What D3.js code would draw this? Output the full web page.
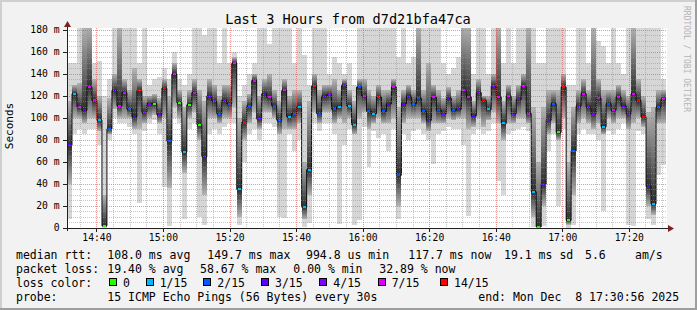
<!DOCTYPE html>
<html>
<head>
<meta charset="utf-8">
<script src="https://cdn.jsdelivr.net/npm/d3@7"></script>
<style>
  body { margin: 0; background: #fff; }
  svg text { font-family: "DejaVu Sans Mono", monospace; }
</style>
</head>
<body>
<div id="chart"></div>
<script>
// one slot = 90 s, 120 slots = 3 hours (values in ms)
const med = [75,122,110,107,128,116,98,2,90,125, 111,123,108,101,125,105,113,113,103,127,
  79,140,114,69,112,123,94,65,120,115, 104,116,113,150,35,96,111,134,99,122,
  119,111,98,125,101,104,110,19,53,129, 104,120,121,108,110,130,111,94,128,120,
  106,104,119,106,113,128,48,113,120,113, 118,106,98,119,107,104,118,107,108,125,
  119,102,123,116,108,129,119,95,120,104, 117,129,104,33,1,40,98,113,87,128,
  7,70,111,122,110,104,118,92,113,107, 119,111,104,122,116,101,38,22,110,117];
const loss = [3,1,7,3,7,7,1,0,2,3, 7,7,2,3,14,4,4,0,4,14,
  2,7,0,1,0,7,0,3,3,4, 2,4,2,7,1,14,2,7,4,3,
  7,2,2,7,1,2,1,1,1,14, 2,3,4,2,1,4,1,1,2,7,
  2,1,14,2,3,7,2,3,3,2, 2,2,3,7,2,4,3,2,3,7,
  7,3,4,14,1,4,7,1,7,3, 4,7,7,1,0,3,4,2,0,14,
  0,2,4,7,4,4,7,1,2,7, 7,3,4,7,14,14,3,1,2,7];
const lo = [8,85,90,85,90,90,75,0,80,100, 95,95,92,85,23,88,95,98,85,37,
  2,100,95,8,90,95,10,3,85,90, 85,92,95,95,3,60,85,90,80,95,
  95,92,10,9,85,70,80,1,5,95, 88,95,95,85,4,75,90,3,7,92,
  55,88,82,85,70,90,8,85,80,88, 90,85,80,58,85,88,92,90,90,75,
  11,85,90,85,88,95,43,30,85,88, 90,92,88,1,0,2,70,85,20,90,
  0,3,85,90,85,85,80,15,88,85, 90,95,3,2,88,85,8,3,48,57];
const q1 = [40,100,100,95,100,100,88,1,85,108, 100,100,100,90,90,95,100,103,95,100,
  36,110,100,50,100,105,80,30,100,100, 95,100,100,110,10,80,95,105,90,105,
  105,100,85,90,90,90,95,8,30,105, 95,105,105,95,100,95,100,85,100,105,
  90,95,100,95,95,100,20,95,100,100, 100,95,88,95,95,95,100,98,100,100,
  90,92,100,92,98,105,95,80,95,95, 100,100,95,10,1,20,85,95,80,100,
  3,30,95,100,95,90,95,85,100,95, 100,100,90,95,100,92,20,12,95,95];
const q3 = [115,130,132,185,185,135,120,30,118,140, 185,135,125,145,135,120,120,122,118,135,
  120,150,125,110,125,135,125,115,135,130, 120,130,130,155,100,115,122,140,120,135,
  140,125,115,135,120,125,125,60,115,140, 125,130,130,135,125,135,125,115,135,135,
  125,120,130,125,125,135,110,125,130,125, 185,125,150,130,125,118,128,120,125,185,
  185,115,135,120,120,140,185,115,130,120, 130,140,185,110,60,110,125,125,125,140,
  60,110,125,135,125,185,135,125,125,125, 130,125,120,185,135,120,105,110,125,125];
const hi = [150,150,185,185,185,150,152,120,135,185, 185,185,185,185,150,185,130,135,137,145,
  135,160,135,130,140,185,185,175,185,185, 150,185,150,160,120,130,140,150,185,185,
  167,185,185,185,185,150,185,157,130,185, 185,185,140,155,150,140,150,130,185,185,
  185,185,185,185,185,185,155,185,150,155, 185,185,185,185,185,150,140,145,155,185,
  185,140,185,185,140,185,185,150,185,150, 185,185,185,185,150,150,185,185,185,185,
  130,130,185,185,150,185,170,165,150,185, 150,140,185,185,185,185,185,185,185,135];

const yTicks = [0, 20, 40, 60, 80, 100, 120, 140, 160, 180];
const lossSteps = [0, 1, 2, 3, 4, 7, 14];
const lossColors = ["#26ff00", "#00b8ff", "#0059ff", "#5e00ff", "#7e00ff", "#dd00ff", "#ff0000"];
const lossLabels = ["0", "1/15", "2/15", "3/15", "4/15", "7/15", "14/15"];

const title = "Last 3 Hours from d7d21bfa47ca";
const rttRow = ["median rtt:", "108.0 ms avg", "149.7 ms max", "994.8 us min", "117.7 ms now", "19.1 ms sd", "5.6", "am/s"];
const lossRow = ["packet loss:", "19.40 % avg", "58.67 % max", "0.00 % min", "32.89 % now"];
const probeRow = ["probe:", "15 ICMP Echo Pings (56 Bytes) every 30s", "end: Mon Dec  8 17:30:56 2025"];

const W = 697, H = 310;
const plotLeft = 67, plotTop = 28, plotBottom = 228;
const t0 = new Date(2025, 11, 8, 14, 31, 10);
const t1 = new Date(t0.getTime() + 3 * 3600 * 1000);
const STEP = 90 * 1000;

const x = d3.scaleTime().domain([t0, t1]).range([plotLeft, 666]);
const y = d3.scaleLinear().domain([0, 181.818]).range([plotBottom, plotTop]);

const svg = d3.select("#chart").append("svg")
  .attr("width", W).attr("height", H);

// frame like rrdtool: background + shades
svg.append("rect").attr("width", W).attr("height", H).attr("fill", "#f2f2f2");
svg.append("path").attr("d", `M0,0H${W}V2H2V${H}H0Z`).attr("fill", "#cfcfcf");
svg.append("path").attr("d", `M${W},${H}H0V${H - 2}H${W - 2}V0H${W}Z`).attr("fill", "#9e9e9e");

svg.append("rect").attr("x", plotLeft).attr("y", plotTop).attr("width", 600).attr("height", plotBottom - plotTop)
  .attr("fill", "#fff");

const defs = svg.append("defs");
defs.append("clipPath").attr("id", "plot")
  .append("rect").attr("x", plotLeft).attr("y", plotTop).attr("width", 600).attr("height", plotBottom - plotTop);

const slots = d3.range(med.length);
const sx = i => x(new Date(t0.getTime() + i * STEP));
const yc = v => y(Math.min(v, 184));

// darker towards the median inside each inner band
slots.forEach(i => {
  const top = yc(q3[i]), bot = yc(q1[i]);
  const m = bot > top ? (yc(med[i]) - top) / (bot - top) : 0.5;
  const gr = defs.append("linearGradient").attr("id", "sm" + i)
    .attr("x1", 0).attr("y1", 0).attr("x2", 0).attr("y2", 1);
  gr.append("stop").attr("offset", 0).attr("stop-color", "#b4b4b4");
  gr.append("stop").attr("offset", Math.max(0, Math.min(1, m))).attr("stop-color", "#2e2e2e");
  gr.append("stop").attr("offset", 1).attr("stop-color", "#b4b4b4");
});

const g = svg.append("g").attr("clip-path", "url(#plot)").attr("shape-rendering", "crispEdges");

// smoke: outer spread, then inner spread
g.selectAll("rect.outer").data(slots).join("rect")
  .attr("class", "outer")
  .attr("x", i => sx(i)).attr("width", i => sx(i + 1) - sx(i))
  .attr("y", i => yc(hi[i])).attr("height", i => yc(lo[i]) - yc(hi[i]))
  .attr("fill", "#d6d6d6");

g.selectAll("rect.inner").data(slots).join("rect")
  .attr("class", "inner")
  .attr("x", i => sx(i)).attr("width", i => sx(i + 1) - sx(i))
  .attr("y", i => yc(q3[i])).attr("height", i => yc(q1[i]) - yc(q3[i]))
  .attr("fill", i => `url(#sm${i})`);

// median as a stepped black line
const line = d3.line()
  .x(d => sx(d))
  .y(d => y(med[Math.min(d, med.length - 1)]))
  .curve(d3.curveStepAfter);
g.append("path").datum(d3.range(med.length + 1))
  .attr("d", line).attr("fill", "none").attr("stroke", "#111").attr("stroke-width", 1)
  .attr("shape-rendering", "auto");

function lossColor(l) {
  let c = lossColors[0];
  lossSteps.forEach((s, k) => { if (l >= s) c = lossColors[k]; });
  return c;
}

g.selectAll("rect.med").data(slots).join("rect")
  .attr("class", "med")
  .attr("x", i => Math.round((sx(i) + sx(i + 1)) / 2 - 1.5)).attr("width", 3)
  .attr("y", i => Math.round(y(med[i]) - 1)).attr("height", 2)
  .attr("fill", i => lossColor(loss[i]));

// grid on top of the data
const grid = svg.append("g").attr("stroke-dasharray", "1,1").attr("shape-rendering", "crispEdges");
const minorY = d3.range(5, 181, 5).filter(v => v % 20 !== 0);
grid.selectAll("line.my").data(minorY).join("line")
  .attr("x1", plotLeft).attr("x2", 667)
  .attr("y1", d => Math.round(y(d)) + 0.5).attr("y2", d => Math.round(y(d)) + 0.5)
  .attr("stroke", "rgba(143,143,143,0.5)");
grid.selectAll("line.My").data(yTicks.slice(1)).join("line")
  .attr("x1", plotLeft).attr("x2", 667)
  .attr("y1", d => Math.round(y(d)) + 0.5).attr("y2", d => Math.round(y(d)) + 0.5)
  .attr("stroke", "rgba(222,79,79,0.6)");

const minorX = d3.timeMinute.every(5).range(t0, t1).filter(d => d.getMinutes() % 20 !== 0);
const majorX = d3.timeMinute.every(20).range(t0, t1);
grid.selectAll("line.mx").data(minorX).join("line")
  .attr("y1", plotTop).attr("y2", plotBottom)
  .attr("x1", d => Math.round(x(d)) + 0.5).attr("x2", d => Math.round(x(d)) + 0.5)
  .attr("stroke", "rgba(143,143,143,0.5)");
grid.selectAll("line.Mx").data(majorX).join("line")
  .attr("y1", plotTop).attr("y2", plotBottom)
  .attr("x1", d => Math.round(x(d)) + 0.5).attr("x2", d => Math.round(x(d)) + 0.5)
  .attr("stroke", "rgba(222,79,79,0.6)");

// axes
const axisCol = "#1f1f1f";
const ax = svg.append("g").attr("shape-rendering", "crispEdges");
ax.append("line").attr("x1", 63).attr("x2", 670).attr("y1", plotBottom + 0.5).attr("y2", plotBottom + 0.5)
  .attr("stroke", axisCol);
ax.append("line").attr("x1", plotLeft + 0.5).attr("x2", plotLeft + 0.5).attr("y1", 231).attr("y2", 25)
  .attr("stroke", axisCol);
ax.selectAll("line.yt").data(yTicks).join("line")
  .attr("x1", 63).attr("x2", plotLeft)
  .attr("y1", d => Math.round(y(d)) + 0.5).attr("y2", d => Math.round(y(d)) + 0.5)
  .attr("stroke", axisCol);
ax.selectAll("line.xt").data(majorX).join("line")
  .attr("y1", plotBottom).attr("y2", 232)
  .attr("x1", d => Math.round(x(d)) + 0.5).attr("x2", d => Math.round(x(d)) + 0.5)
  .attr("stroke", axisCol);
svg.append("path").attr("d", "M67.5,21L71,27H64Z").attr("fill", "#801f1f");
svg.append("path").attr("d", "M674,228.5L668,225V232Z").attr("fill", "#801f1f");

// tick labels
svg.selectAll("text.yl").data(yTicks).join("text")
  .attr("x", 59.5).attr("y", d => y(d)).attr("dy", "0.35em")
  .attr("text-anchor", "end").attr("font-size", 9.7)
  .text(d => d === 0 ? "0" : d + " m");

const fmt = d3.timeFormat("%H:%M");
svg.selectAll("text.xl").data(majorX).join("text")
  .attr("x", d => x(d) + 0.5).attr("y", 238).attr("dy", "0.35em")
  .attr("text-anchor", "middle").attr("font-size", 9.7)
  .text(d => fmt(d));

svg.append("text").attr("x", 348).attr("y", 24).attr("text-anchor", "middle")
  .attr("font-size", 13.6).text(title);

svg.append("text").attr("transform", "translate(13,126) rotate(-90)")
  .attr("text-anchor", "middle").attr("font-size", 11).text("Seconds");

svg.append("text").attr("transform", "translate(684,59) rotate(90)")
  .attr("text-anchor", "middle").attr("font-size", 8).attr("fill", "#b4b4b4")
  .text("RRDTOOL / TOBI OETIKER");

// legend
const lg = svg.append("g").attr("font-size", 11.5);
function row(items, xs, yy) {
  items.forEach((t, k) => {
    lg.append("text").attr("x", xs[k]).attr("y", yy).attr("dy", "0.35em")
      .style("white-space", "pre").text(t);
  });
}
row(rttRow, [16, 107.3, 207.3, 306, 408.3, 504, 585, 635], 254.5);
row(lossRow, [16, 107.3, 200, 293.3, 379.3], 268.5);
row(probeRow, [16, 107.3, 478.3], 296.5);
row(["loss color:"], [16], 282.5);

const boxX = [109, 145.7, 203.3, 261, 319.3, 377.7, 440];
lossLabels.forEach((t, k) => {
  lg.append("rect").attr("x", boxX[k] + 0.5).attr("y", 278.5).attr("width", 7).attr("height", 7)
    .attr("fill", lossColors[k]).attr("stroke", "#000").attr("shape-rendering", "crispEdges");
  lg.append("text").attr("x", boxX[k] + 14).attr("y", 282.5).attr("dy", "0.35em").text(t);
});
</script>
</body>
</html>
